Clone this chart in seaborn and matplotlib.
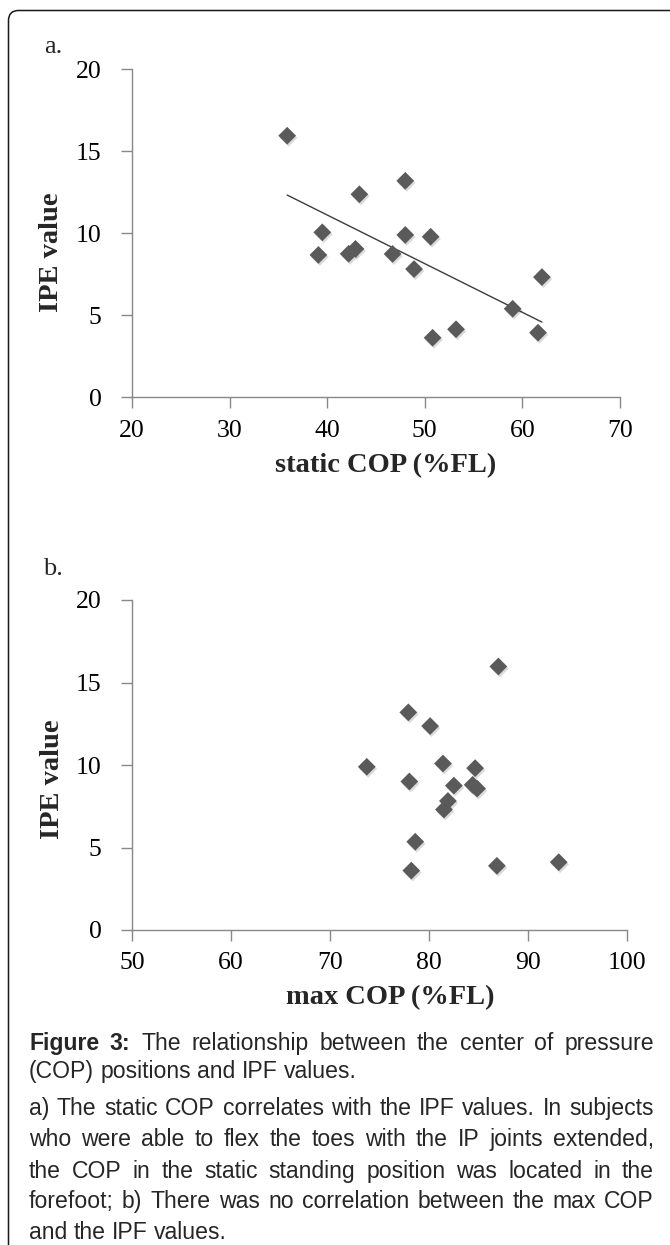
import matplotlib
matplotlib.use('Agg')
import matplotlib.pyplot as plt
import matplotlib.patheffects as pe
from matplotlib.patches import FancyBboxPatch
from matplotlib.transforms import IdentityTransform
import seaborn as sns
import pandas as pd

# ---------------- data ----------------
static_cop = [35.9, 43.3, 48.0, 39.5, 48.0, 50.6, 39.1, 42.2, 42.9, 46.7, 48.9, 62.0, 59.0, 61.6, 53.2, 50.8]
ipe_a = [15.95, 12.38, 13.2, 10.06, 9.9, 9.79, 8.68, 8.75, 9.05, 8.74, 7.82, 7.33, 5.4, 3.94, 4.15, 3.63]

max_cop = [87.0, 77.9, 80.1, 73.7, 81.4, 84.65, 78.0, 82.5, 84.4, 84.85, 81.9, 81.5, 78.6, 78.2, 86.85, 93.1]
ipe_b = [15.97, 13.19, 12.36, 9.89, 10.09, 9.81, 9.0, 8.75, 8.8, 8.57, 7.82, 7.3, 5.35, 3.6, 3.89, 4.11]

xticks_a = [20, 30, 40, 50, 60, 70]
xticks_b = [50, 60, 70, 80, 90, 100]
yticks = [0, 5, 10, 15, 20]

caption_p1 = ["Figure 3: The relationship between the center of pressure",
              "(COP) positions and IPF values."]
caption_p2 = ["a) The static COP correlates with the IPF values. In subjects",
              "who were able to flex the toes with the IP joints extended,",
              "the COP in the static standing position was located in the",
              "forefoot; b) There was no correlation between the max COP",
              "and the IPF values."]

df_a = pd.DataFrame({"x": static_cop, "y": ipe_a})
df_b = pd.DataFrame({"x": max_cop, "y": ipe_b})

# ---------------- style ----------------
sns.set_style("ticks")
plt.rcParams['font.family'] = ['Liberation Serif', 'DejaVu Serif']

W, H = 670, 1245
fig = plt.figure(figsize=(W / 100, H / 100), dpi=100)
fig.patch.set_facecolor('white')


def px_rect(l, t, r, b):
    return [l / W, 1 - b / H, (r - l) / W, (b - t) / H]


ax_a = fig.add_axes(px_rect(132, 69.3, 620, 397.3))
ax_b = fig.add_axes(px_rect(132.3, 600, 627, 930))

MC = '#5a5a5a'
AXC = '#888888'


def style_axes(ax, xticks, xlabel, xlab_xy, ylab_xy):
    ax.set_xlim(xticks[0], xticks[-1])
    ax.set_ylim(0, 20)
    ax.set_xticks(xticks)
    ax.set_yticks(yticks)
    for s in ['top', 'right']:
        ax.spines[s].set_visible(False)
    for s in ['left', 'bottom']:
        ax.spines[s].set_color(AXC)
        ax.spines[s].set_linewidth(1.0)
    ax.tick_params(length=8, width=1, color=AXC, labelsize=18.5, labelcolor='black')
    ax.tick_params(axis='y', pad=14)
    ax.tick_params(axis='x', pad=8)
    ax.set_xlabel(xlabel, fontsize=20.5, fontweight='bold')
    ax.set_ylabel('IPE value', fontsize=20.5, fontweight='bold')
    ax.xaxis.set_label_coords(*xlab_xy)
    ax.xaxis.label.set_va('center')
    ax.yaxis.set_label_coords(*ylab_xy)
    ax.yaxis.label.set_va('center')


shadow = [pe.SimplePatchShadow(offset=(1, -1.5), shadow_rgbFace='black', alpha=0.14), pe.Normal()]

# panel a
sns.regplot(data=df_a, x="x", y="y", ax=ax_a, scatter=False, ci=None, truncate=True,
            color='#3c3c3c', line_kws={'linewidth': 1.0, 'zorder': 2})
sns.scatterplot(data=df_a, x="x", y="y", ax=ax_a, marker='D', s=82, color=MC,
                edgecolor='none', linewidth=0, zorder=3)
ax_a.collections[-1].set_path_effects(shadow)
style_axes(ax_a, xticks_a, 'static COP (%FL)', (0.52, -0.209), (-0.164, 0.441))

# panel b
sns.scatterplot(data=df_b, x="x", y="y", ax=ax_b, marker='D', s=82, color=MC,
                edgecolor='none', linewidth=0, zorder=3)
ax_b.collections[-1].set_path_effects(shadow)
style_axes(ax_b, xticks_b, 'max COP (%FL)', (0.521, -0.206), (-0.162, 0.458))

fig.text(44 / W, 1 - 53 / H, 'a.', fontsize=19, va='baseline', ha='left')
fig.text(43 / W, 1 - 575 / H, 'b.', fontsize=19, va='baseline', ha='left')

# frame
box = FancyBboxPatch((8.5, H - 1400), 800, 1400 - 10.5,
                     boxstyle='round,pad=0,rounding_size=10',
                     transform=IdentityTransform(), facecolor='none',
                     edgecolor='#1a1a1a', linewidth=1.1, clip_on=False)
fig.add_artist(box)

# ---------------- caption (justified) ----------------
CAP_FAM = ['Liberation Sans', 'DejaVu Sans']
renderer = fig.canvas.get_renderer()
X0, X1 = 29, 654


def text_width(s, fs, weight='normal'):
    t = fig.text(0, 0, s, fontsize=fs, family=CAP_FAM, fontweight=weight)
    w = t.get_window_extent(renderer).width
    t.remove()
    return w


# pick the caption size so the widest justified line nearly fills the column
ref_fs = 16.0
widest = max(text_width(ln, ref_fs) for ln in caption_p1[:-1] + caption_p2[:-1])
CAP_FS = ref_fs * (X1 - X0) * 0.985 / widest
space_w = text_width('a a', CAP_FS) - text_width('aa', CAP_FS)
fpx = CAP_FS * 100 / 72


def draw_line(line, yc, justify, bold_words=0):
    words = line.split(' ')
    weights = ['bold' if i < bold_words else 'normal' for i in range(len(words))]
    widths = [text_width(w, CAP_FS, wt) for w, wt in zip(words, weights)]
    if justify and len(words) > 1:
        gap = (X1 - X0 - sum(widths)) / (len(words) - 1)
    else:
        gap = space_w
    x = X0
    yb = yc + 0.34 * fpx
    for w, wt, wd in zip(words, weights, widths):
        fig.text(x / W, 1 - yb / H, w, fontsize=CAP_FS, family=CAP_FAM,
                 fontweight=wt, va='baseline', ha='left')
        x += wd + gap


p1_y = [1041.7, 1070.5]
p2_y = [1107, 1138.5, 1170, 1200.5, 1231.5]
for i, (ln, y) in enumerate(zip(caption_p1, p1_y)):
    draw_line(ln, y, justify=(i < len(caption_p1) - 1), bold_words=2 if i == 0 else 0)
for i, (ln, y) in enumerate(zip(caption_p2, p2_y)):
    draw_line(ln, y, justify=(i < len(caption_p2) - 1))

fig.savefig('out.png', dpi=100)
